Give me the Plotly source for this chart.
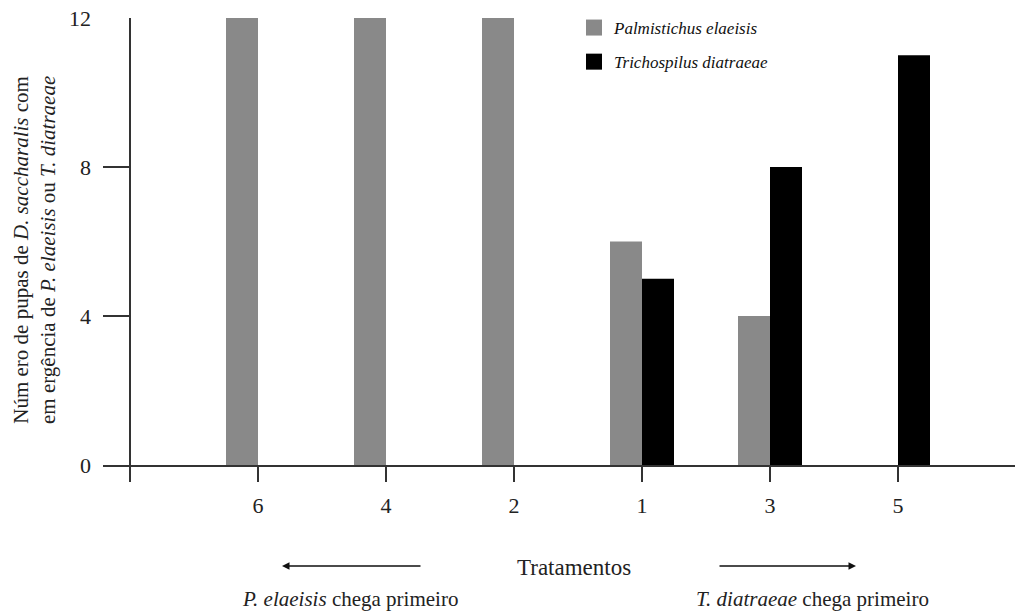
import plotly.graph_objects as go

categories = ["6", "4", "2", "1", "3", "5"]
palmistichus = [12, 12, 12, 6, 4, 0]
trichospilus = [0, 0, 0, 5, 8, 11]
y_ticks = [0, 4, 8, 12]

FONT = "Liberation Serif"
GRAY = "#898989"
BLACK = "#000000"
AX = "#333333"

W, H = 1019, 613
# plot area in pixels
L, R, T, B = 103, 1015, 18, 465
def px(x):
    return (x - L) / (R - L)
def py(y):
    return (B - y) / (B - T)

pos = list(range(1, len(categories) + 1))

fig = go.Figure()
fig.add_trace(go.Bar(x=pos, y=palmistichus, width=0.25, offset=-0.25,
                     marker=dict(color=GRAY, line=dict(width=0)), showlegend=False))
fig.add_trace(go.Bar(x=pos, y=trichospilus, width=0.25, offset=0,
                     marker=dict(color=BLACK, line=dict(width=0)), showlegend=False))
# legend entries
fig.add_trace(go.Scatter(x=[None], y=[None], mode="markers", name="Palmistichus elaeisis",
                         legendgroup="a",
                         marker=dict(symbol="square", size=18, color=GRAY)))
fig.add_trace(go.Scatter(x=[None], y=[None], mode="markers", name="Trichospilus diatraeae",
                         legendgroup="b",
                         marker=dict(symbol="square", size=18, color=BLACK)))

fig.update_layout(
    width=W, height=H,
    margin=dict(l=L, r=W - R, t=T, b=H - B, autoexpand=False),
    plot_bgcolor="white", paper_bgcolor="white",
    font=dict(family=FONT, size=18, color="#222222"),
    barmode="overlay",
    legend=dict(x=px(574), y=py(10), xanchor="left", yanchor="top",
                font=dict(family=FONT, size=17, style="italic", color="#111111"),
                tracegroupgap=9, bgcolor="rgba(0,0,0,0)"),
    xaxis=dict(range=[(L - 130) / 128, (R - 130) / 128],
               tickmode="array", tickvals=[0] + pos, ticktext=[""] + categories,
               ticks="outside", ticklen=15, tickcolor=AX, tickwidth=1.5,
               showline=True, linecolor=AX, linewidth=1.5,
               zeroline=True, zerolinecolor=AX, zerolinewidth=1.5,
               showgrid=False, tickfont=dict(size=22, family=FONT),
               ticklabelstandoff=5, ticklabeloverflow="allow", automargin=False),
    yaxis=dict(range=[0, 12], tickmode="array", tickvals=y_ticks,
               ticks="inside", ticklen=27, tickcolor=AX, tickwidth=1.5,
               showline=False, zeroline=False, showgrid=False,
               tickfont=dict(size=22, family=FONT), ticklabelstandoff=11,
               ticklabeloverflow="allow", automargin=False),
)

anns = []
anns.append(dict(xref="paper", yref="paper", x=px(34), y=py(250),
                 text="Núm ero de pupas de <i>D. saccharalis</i> com<br>em ergência de <i>P. elaeisis</i> ou <i>T. diatraeae</i>",
                 textangle=-90, showarrow=False, font=dict(size=21, family=FONT),
                 xanchor="center", yanchor="middle"))
anns.append(dict(xref="paper", yref="paper", x=px(574), y=py(567), text="Tratamentos",
                 showarrow=False, font=dict(size=23, family=FONT), xanchor="center", yanchor="middle"))
anns.append(dict(xref="paper", yref="paper", x=px(350), y=py(599),
                 text="<i>P. elaeisis</i> chega primeiro",
                 showarrow=False, font=dict(size=21, family=FONT), xanchor="center", yanchor="middle"))
anns.append(dict(xref="paper", yref="paper", x=px(812), y=py(599),
                 text="<i>T. diatraeae</i> chega primeiro",
                 showarrow=False, font=dict(size=21, family=FONT), xanchor="center", yanchor="middle"))
# arrows
anns.append(dict(xref="paper", yref="paper", x=px(282), y=py(566), ax=140, ay=0, text="",
                 showarrow=True, arrowhead=2, arrowsize=1, arrowwidth=1.5, arrowcolor="#111111"))
anns.append(dict(xref="paper", yref="paper", x=px(856), y=py(566), ax=-138, ay=0, text="",
                 showarrow=True, arrowhead=2, arrowsize=1, arrowwidth=1.5, arrowcolor="#111111"))
fig.update_layout(annotations=anns)

# remove the browser's default 8px page margin so the figure fills the window
fig.write_html("out.html", config={"displayModeBar": False},
               post_script="document.body.style.margin='0';")
